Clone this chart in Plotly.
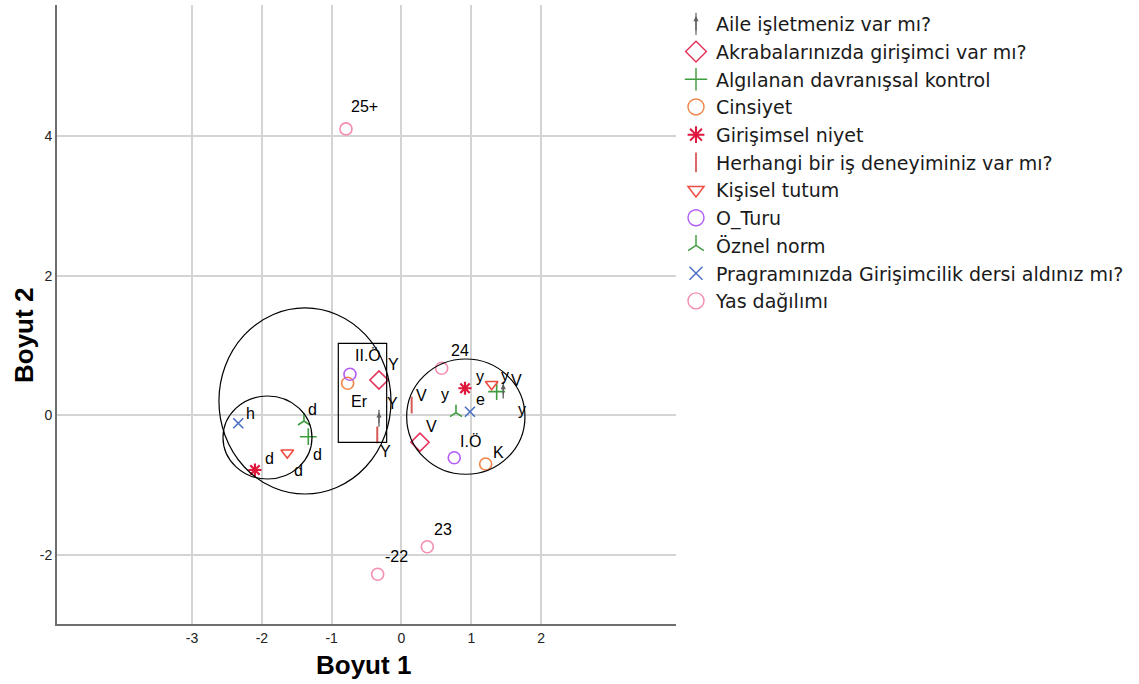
import plotly.graph_objects as go

# ---------------- data ----------------
series_names = [
    "Aile işletmeniz var mı?",
    "Akrabalarınızda girişimci var mı?",
    "Algılanan davranışsal kontrol",
    "Cinsiyet",
    "Girişimsel niyet",
    "Herhangi bir iş deneyiminiz var mı?",
    "Kişisel tutum",
    "O_Turu",
    "Öznel norm",
    "Pragramınızda Girişimcilik dersi aldınız mı?",
    "Yas dağılımı",
]

aile_labels = ["Y", "V"]
aile_x = [-0.322, 1.458]
aile_y = [-0.040, 0.365]

akraba_labels = ["Y", "V"]
akraba_x = [-0.322, 0.265]
akraba_y = [0.509, -0.384]

algilanan_labels = ["d", "y"]
algilanan_x = [-1.335, 1.364]
algilanan_y = [-0.304, 0.341]

cinsiyet_labels = ["Er", "K"]
cinsiyet_x = [-0.771, 1.206]
cinsiyet_y = [0.461, -0.695]

niyet_labels = ["d", "y"]
niyet_x = [-2.099, 0.910]
niyet_y = [-0.781, 0.390]

deneyim_labels = ["Y", "V"]
deneyim_x = [-0.347, 0.146]
deneyim_y = [-0.279, 0.150]

tutum_labels = ["d", "y"]
tutum_x = [-1.636, 1.292]
tutum_y = [-0.533, 0.447]

oturu_labels = ["II.Ö", "I.Ö"]
oturu_x = [-0.738, 0.756]
oturu_y = [0.590, -0.605]

oznel_labels = ["d", "y"]
oznel_x = [-1.397, 0.781]
oznel_y = [-0.079, 0.040]

ders_labels = ["h", "e"]
ders_x = [-2.338, 0.981]
ders_y = [-0.112, 0.054]

yas_labels = ["-22", "23", "24", "25+"]
yas_x = [-0.341, 0.370, 0.576, -0.795]
yas_y = [-2.275, -1.880, 0.676, 4.105]

x_ticks = [-3, -2, -1, 0, 1, 2]
y_ticks = [-2, 0, 2, 4]
x_title = "Boyut 1"
y_title = "Boyut 2"

# ---------------- layout / styling ----------------
FONT = "Arial, 'Liberation Sans', sans-serif"
LEG_FONT = "'DejaVu Sans', Arial, sans-serif"
W, H = 1139, 684
L, R, T, B = 57, 463, 5, 60
X_RANGE = [-4.935, 3.933]
Y_RANGE = [-2.987, 5.88]
LEG_LEFT = 676  # px

# label offsets in pixels (dx right, dy down)
label_offsets = {
    0: [(14, -15), (13, -10)],
    1: [(15, -15), (12, -16)],
    2: [(9, 18), (25, 18)],
    3: [(12, 18), (13, -12)],
    4: [(15, -12), (15, -12)],
    5: [(8, 17), (10, -10)],
    6: [(11, 18), (13, -9)],
    7: [(18, -19), (16, -16)],
    8: [(9, -11), (-11, -18)],
    9: [(12, -10), (11, -12)],
    10: [(19, -18), (16, -17), (18, -18), (19, -22)],
}

styles = [
    dict(symbol="line-ns-open", color="#5f5f5f", size=12, lw=1.3, leg=16),
    dict(symbol="diamond-open", color="#e3335c", size=14, lw=1.6, leg=16),
    dict(symbol="cross-thin-open", color="#3f9c3f", size=12, lw=1.6, leg=16),
    dict(symbol="circle-open", color="#f28649", size=12, lw=1.6, leg=16),
    dict(symbol="asterisk-open", color="#e0173d", size=11, lw=2.2, leg=14),
    dict(symbol="line-ns-open", color="#d65a55", size=12, lw=2.0, leg=14),
    dict(symbol="triangle-down-open", color="#ef4a40", size=11, lw=1.6, leg=14),
    dict(symbol="circle-open", color="#b25df5", size=12, lw=1.6, leg=16),
    dict(symbol="y-up-open", color="#3f9c3f", size=10, lw=1.6, leg=13),
    dict(symbol="x-thin-open", color="#4a6ec4", size=10, lw=1.6, leg=13),
    dict(symbol="circle-open", color="#f58db3", size=12, lw=1.6, leg=16),
]

all_series = [
    (aile_x, aile_y, aile_labels),
    (akraba_x, akraba_y, akraba_labels),
    (algilanan_x, algilanan_y, algilanan_labels),
    (cinsiyet_x, cinsiyet_y, cinsiyet_labels),
    (niyet_x, niyet_y, niyet_labels),
    (deneyim_x, deneyim_y, deneyim_labels),
    (tutum_x, tutum_y, tutum_labels),
    (oturu_x, oturu_y, oturu_labels),
    (oznel_x, oznel_y, oznel_labels),
    (ders_x, ders_y, ders_labels),
    (yas_x, yas_y, yas_labels),
]

fig = go.Figure()
annotations = []

for i, (name, (xs, ys, labs), st) in enumerate(zip(series_names, all_series, styles)):
    # plotted points
    fig.add_trace(go.Scatter(
        x=xs, y=ys, mode="markers", name=name,
        legendgroup=f"g{i}", showlegend=False,
        marker=dict(symbol=st["symbol"], size=st["size"], color=st["color"],
                    line=dict(color=st["color"], width=st["lw"])),
        hoverinfo="text", text=labs,
    ))
    # legend entry (larger glyph, as in the reference legend)
    fig.add_trace(go.Scatter(
        x=[None], y=[None], mode="markers", name=name,
        legendgroup=f"g{i}", showlegend=True,
        marker=dict(symbol=st["symbol"], size=st["leg"], color=st["color"],
                    line=dict(color=st["color"], width=st["lw"] * 0.9)),
    ))
    for j, (xv, yv, lab) in enumerate(zip(xs, ys, labs)):
        dx, dy = label_offsets[i][j]
        annotations.append(dict(
            x=xv, y=yv, xref="x", yref="y", text=lab, showarrow=False,
            xshift=dx, yshift=-dy, font=dict(family=FONT, size=16, color="#000000"),
        ))

pw, ph = W - L - R, H - T - B

# arrow heads for "Aile işletmeniz var mı?"
for xv, yv in zip(aile_x, aile_y):
    annotations.append(dict(
        x=xv, y=yv, xref="x", yref="y", text="", showarrow=True,
        ax=0, ay=12, yshift=6, arrowhead=2, arrowsize=0.8, arrowwidth=1.3,
        arrowcolor="#5f5f5f",
    ))
# arrow head on its legend glyph
annotations.append(dict(
    x=(LEG_LEFT + 20 - L) / pw, y=(H - B - 16) / ph, xref="paper", yref="paper",
    text="", showarrow=True, ax=0, ay=16, arrowhead=2, arrowsize=0.8,
    arrowwidth=1.3, arrowcolor="#5f5f5f",
))

# manually drawn grouping shapes (ellipses and a rectangle), in data units
ellipses = [
    (-2.615, -0.150, -1.125, 1.540),
    (-2.557, -1.282, -0.910, 0.279),
    (0.0745, 1.769, -0.842, 0.809),
]
rectangles = [(-0.905, -0.212, -0.384, 1.034)]
shapes = []
for x0, x1, y0, y1 in ellipses:
    shapes.append(dict(type="circle", xref="x", yref="y", x0=x0, x1=x1, y0=y0, y1=y1,
                       line=dict(color="#000000", width=1.2)))
for x0, x1, y0, y1 in rectangles:
    shapes.append(dict(type="rect", xref="x", yref="y", x0=x0, x1=x1, y0=y0, y1=y1,
                       line=dict(color="#000000", width=1.2)))

annotations.append(dict(
    text=f"<b>{x_title}</b>", xref="paper", yref="paper",
    x=(363 - L) / pw, y=(H - B - 665) / ph, xanchor="center", yanchor="middle",
    showarrow=False, font=dict(family=FONT, size=26, color="#000000"),
))
annotations.append(dict(
    text=f"<b>{y_title}</b>", xref="paper", yref="paper",
    x=(24 - L) / pw, y=(H - B - 336) / ph, xanchor="center", yanchor="middle",
    textangle=-90, showarrow=False, font=dict(family=FONT, size=26, color="#000000"),
))

fig.update_layout(
    width=W, height=H,
    margin=dict(l=L, r=R, t=T, b=B),
    paper_bgcolor="white", plot_bgcolor="white",
    font=dict(family=FONT, size=14, color="#222222"),
    showlegend=True,
    legend=dict(
        x=(LEG_LEFT - L) / pw, y=1.0, xanchor="left", yanchor="top",
        font=dict(family=LEG_FONT, size=19, color="#1a1a1a"),
        tracegroupgap=0, itemwidth=30, bgcolor="rgba(0,0,0,0)",
    ),
    shapes=shapes,
    annotations=annotations,
)
fig.update_xaxes(
    range=X_RANGE, tickvals=x_ticks, ticktext=[str(v) for v in x_ticks],
    showgrid=True, gridcolor="#d4d4d4", gridwidth=1.6, zeroline=False,
    showline=True, linecolor="#6e6e6e", linewidth=1.8, ticks="",
    tickfont=dict(family=FONT, size=14, color="#222222"), fixedrange=True,
)
fig.update_yaxes(
    range=Y_RANGE, tickvals=y_ticks, ticktext=[str(v) for v in y_ticks],
    showgrid=True, gridcolor="#d4d4d4", gridwidth=1.6, zeroline=False,
    showline=True, linecolor="#6e6e6e", linewidth=1.8, ticks="",
    tickfont=dict(family=FONT, size=14, color="#222222"), fixedrange=True,
)

fig.write_html("out.html", config={"displayModeBar": False},
               post_script="document.body.style.margin='0px';")
